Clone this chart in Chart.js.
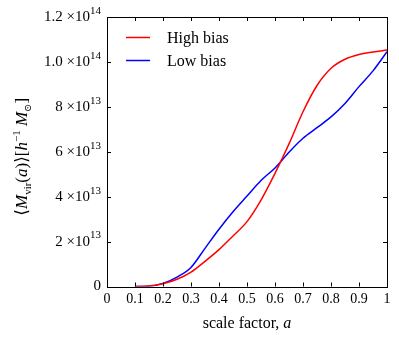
<!DOCTYPE html>
<html>
<head>
<meta charset="utf-8">
<style>
  html, body { margin: 0; padding: 0; background: #fff; }
  #wrap { width: 399px; height: 342px; }
</style>
<script src="https://cdn.jsdelivr.net/npm/chart.js@4.4.1/dist/chart.umd.min.js"></script>
</head>
<body>
<div id="wrap"><canvas id="c" width="399" height="342"></canvas></div>
<script>
(function () {
  "use strict";

  // scale factor a, and mean virial mass in units of 1e13 h^-1 Msun
  var scaleFactor = [0.1, 0.15, 0.2, 0.25, 0.3, 0.35, 0.4, 0.45, 0.5, 0.55, 0.6, 0.65, 0.7, 0.75, 0.8, 0.85, 0.9, 0.95, 1.0];
  var highBias = [0, 0.02, 0.12, 0.32, 0.64, 1.12, 1.64, 2.25, 2.89, 3.85, 5.04, 6.35, 7.78, 8.95, 9.72, 10.12, 10.33, 10.44, 10.53];
  var lowBias = [0, 0.01, 0.14, 0.42, 0.85, 1.7, 2.55, 3.33, 4.03, 4.72, 5.28, 5.98, 6.6, 7.07, 7.55, 8.15, 8.9, 9.6, 10.45];
  var seriesNames = ["High bias", "Low bias"];
  var seriesColors = ["#ff0000", "#0000ff"];

  var xTicks = [0, 0.1, 0.2, 0.3, 0.4, 0.5, 0.6, 0.7, 0.8, 0.9, 1];
  var yTicks = [0, 2, 4, 6, 8, 10, 12];
  var yTickMantissa = ["0", "2", "4", "6", "8", "1.0", "1.2"];
  var yTickExp = ["", "13", "13", "13", "13", "14", "14"];

  var SERIF = "'Liberation Serif', 'DejaVu Serif', serif";

  function points(ys) {
    return scaleFactor.map(function (x, i) { return { x: x, y: ys[i] }; });
  }

  function drawRuns(ctx, runs, x, y) {
    // runs: [text, size, italic, dy]
    runs.forEach(function (r) {
      ctx.font = (r[2] ? "italic " : "") + r[1] + "px " + SERIF;
      ctx.fillText(r[0], x, y + r[3]);
      x += ctx.measureText(r[0]).width;
    });
  }

  function runsWidth(ctx, runs) {
    var w = 0;
    runs.forEach(function (r) {
      ctx.font = (r[2] ? "italic " : "") + r[1] + "px " + SERIF;
      w += ctx.measureText(r[0]).width;
    });
    return w;
  }

  var decorations = {
    id: "decorations",
    afterDraw: function (chart) {
      var ctx = chart.ctx;
      var a = chart.chartArea;
      var xs = chart.scales.x;
      var ys = chart.scales.y;
      ctx.save();

      // frame
      ctx.strokeStyle = "#000";
      ctx.lineWidth = 1;
      ctx.strokeRect(Math.round(a.left) + 0.5, Math.round(a.top) + 0.5,
        Math.round(a.right - a.left), Math.round(a.bottom - a.top));

      // inward ticks on all four sides
      var tl = 4;
      ctx.beginPath();
      xTicks.forEach(function (v) {
        var px = Math.round(xs.getPixelForValue(v)) + 0.5;
        ctx.moveTo(px, a.bottom); ctx.lineTo(px, a.bottom - tl);
        ctx.moveTo(px, a.top); ctx.lineTo(px, a.top + tl);
      });
      yTicks.forEach(function (v) {
        var py = Math.round(ys.getPixelForValue(v)) + 0.5;
        ctx.moveTo(a.left, py); ctx.lineTo(a.left + tl, py);
        ctx.moveTo(a.right, py); ctx.lineTo(a.right - tl, py);
      });
      ctx.stroke();

      // y tick labels with superscript exponents
      ctx.fillStyle = "#000";
      ctx.textBaseline = "middle";
      yTicks.forEach(function (v, i) {
        var py = ys.getPixelForValue(v);
        var runs = [[yTickMantissa[i], 15, false, 0]];
        if (yTickExp[i]) {
          runs = [[yTickMantissa[i] + " \u00d710", 15, false, 0], [yTickExp[i], 11, false, -6]];
        }
        var w = runsWidth(ctx, runs);
        ctx.textAlign = "left";
        drawRuns(ctx, runs, a.left - 6 - w, py);
      });

      // legend
      ctx.textBaseline = "middle";
      ctx.lineWidth = 1.5;
      seriesNames.forEach(function (name, i) {
        var ly = 37.5 + i * 23;
        ctx.strokeStyle = seriesColors[i];
        ctx.beginPath();
        ctx.moveTo(126, ly); ctx.lineTo(150, ly);
        ctx.stroke();
        ctx.font = "16px " + SERIF;
        ctx.fillText(name, 167, ly + 1);
      });

      // x axis title
      ctx.textBaseline = "alphabetic";
      var xr = [["scale factor, ", 16, false, 0], ["a", 16, true, 0]];
      var xw = runsWidth(ctx, xr);
      drawRuns(ctx, xr, (a.left + a.right) / 2 - xw / 2, 328);

      // y axis title (rotated)
      var yr = [
        ["\u27e8", 17, false, 0], ["M", 17, true, 0], ["vir", 11, false, 4],
        ["(", 17, false, 0], ["a", 17, true, 0], [")", 17, false, 0], ["\u27e9", 17, false, 0],
        ["[", 17, false, 0], ["h", 17, true, 0], ["\u22121", 11, false, -7], [" ", 17, false, 0],
        ["M", 17, true, 0], ["\u2299", 10, false, 4], ["]", 17, false, 0]
      ];
      ctx.translate(27, (a.top + a.bottom) / 2 + 5);
      ctx.rotate(-Math.PI / 2);
      var yw = runsWidth(ctx, yr);
      drawRuns(ctx, yr, -yw / 2, 0);

      ctx.restore();
    }
  };

  new Chart(document.getElementById("c"), {
    type: "line",
    data: {
      datasets: [
        { label: seriesNames[0], data: points(highBias), borderColor: seriesColors[0], borderWidth: 1.5,
          pointRadius: 0, fill: false, cubicInterpolationMode: "monotone" },
        { label: seriesNames[1], data: points(lowBias), borderColor: seriesColors[1], borderWidth: 1.5,
          pointRadius: 0, fill: false, cubicInterpolationMode: "monotone" }
      ]
    },
    options: {
      responsive: false,
      devicePixelRatio: 1,
      animation: false,
      layout: { padding: { top: 17, right: 12, left: 0, bottom: 0 } },
      plugins: { legend: { display: false }, tooltip: { enabled: false } },
      scales: {
        x: {
          type: "linear", min: 0, max: 1,
          grid: { display: false, drawTicks: false },
          border: { display: false },
          afterBuildTicks: function (s) { s.ticks = xTicks.map(function (v) { return { value: v }; }); },
          afterFit: function (s) { s.height = 55.5; },
          ticks: {
            autoSkip: false, maxRotation: 0, padding: 4, color: "#000",
            font: { family: SERIF, size: 14 },
            callback: function (v) { return String(+v.toFixed(1)); }
          }
        },
        y: {
          min: 0, max: 12,
          grid: { display: false, drawTicks: false },
          border: { display: false },
          ticks: { display: false },
          afterFit: function (s) { s.width = 107; }
        }
      }
    },
    plugins: [decorations]
  });
})();
</script>
</body>
</html>
